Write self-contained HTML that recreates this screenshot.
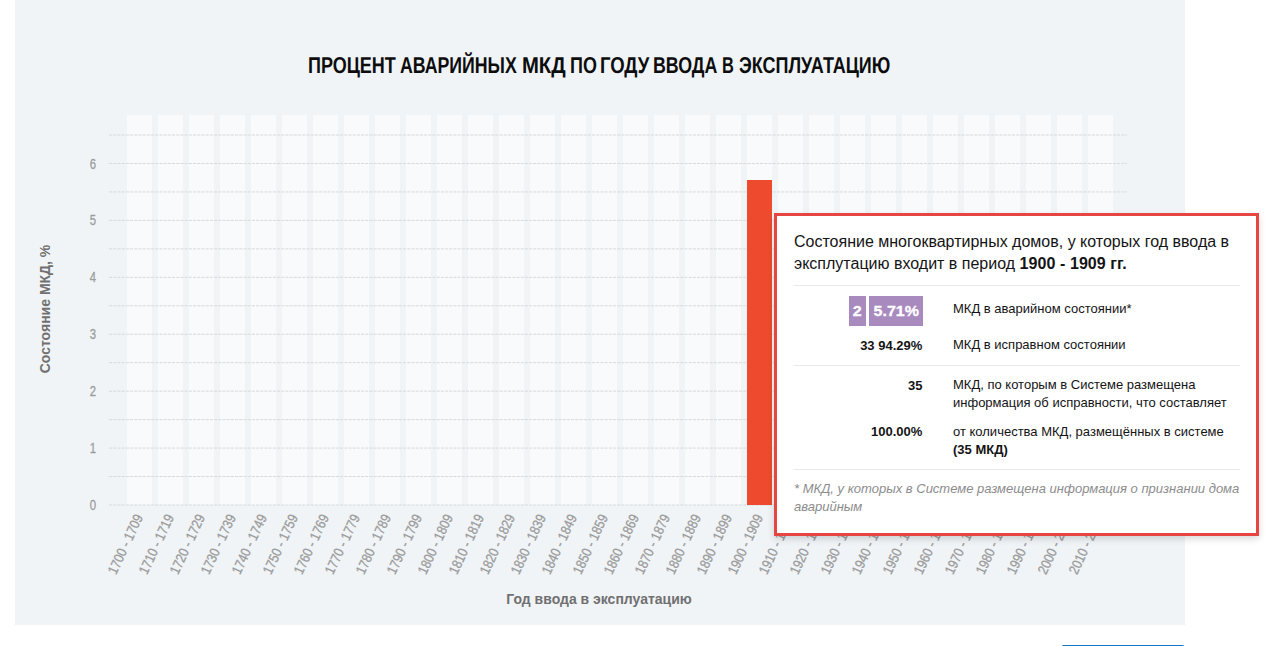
<!DOCTYPE html>
<html lang="ru"><head><meta charset="utf-8"><title>Процент аварийных МКД</title>
<style>
html,body{margin:0;padding:0;background:#fff;}
body{width:1276px;height:646px;overflow:hidden;position:relative;font-family:"Liberation Sans",sans-serif;}
.panel{position:absolute;left:15px;top:0;width:1170px;height:625px;background:#f0f4f7;}
.title{position:absolute;left:0;top:54.0px;width:1276px;height:23.0px;font-weight:bold;font-size:23.0px;line-height:23.0px;color:#0d0d0d;}
.title span{position:absolute;top:0;white-space:nowrap;transform-origin:0 50%;}
.col{position:absolute;top:115px;width:25px;height:390px;background:#f9fafc;}
.bar{position:absolute;left:747px;top:180px;width:25px;height:325px;background:#ee4b2e;}
svg.grid{position:absolute;left:0;top:0;}
svg.grid line{stroke:#d6dadd;stroke-width:1;stroke-dasharray:3.15 1.05;}
.yl{position:absolute;left:60px;width:36px;text-align:right;font-size:14.5px;line-height:16px;color:#9c9c9c;-webkit-text-stroke:.3px #9c9c9c;}
.yl{transform-origin:100% 50%;transform:scaleX(.78);}
.ytitle{position:absolute;left:45px;top:309px;width:0;height:0;}
.ytitle span{position:absolute;left:-100px;width:200px;top:-9px;text-align:center;font-weight:bold;font-size:14px;line-height:18px;color:#707070;white-space:nowrap;transform:rotate(-90deg);}
.xtitle{position:absolute;left:399px;width:400px;top:590px;text-align:center;font-weight:bold;font-size:14px;line-height:18px;color:#707070;}
.xa{position:absolute;top:515px;width:0;height:0;}
.xa span{position:absolute;right:0;top:-8px;font-size:14px;line-height:16px;color:#9c9c9c;-webkit-text-stroke:.3px #9c9c9c;white-space:nowrap;transform-origin:100% 50%;transform:rotate(-65deg) scaleX(.86);}
.btn{position:absolute;left:1062px;top:645px;width:122px;height:40px;background:#1577cc;border-radius:1.5px;}
.tip{position:absolute;left:774px;top:213px;width:479px;height:317px;border:3px solid #e64541;background:#fff;box-shadow:0 3px 7px rgba(0,0,0,.15);color:#141414;}
.tip .h{position:absolute;left:17px;top:15px;width:460px;font-size:16px;line-height:22px;}
.tip .h b{letter-spacing:.08px;}
.tip .sep{position:absolute;left:17px;width:446px;height:1px;background:#e8e8e8;}
.tip .num{position:absolute;left:17px;width:129px;text-align:right;font-weight:bold;font-size:13px;line-height:18px;white-space:nowrap;}
.tip .txt{position:absolute;left:176px;width:300px;font-size:13px;line-height:18px;}
.tip .bd{display:inline-block;background:#a88abf;color:#fff;font-size:15px;line-height:30px;height:30px;width:17px;text-align:center;vertical-align:top;-webkit-text-stroke:.3px #fff;}
.tip .bd i{display:inline-block;font-style:normal;transform:scaleX(1.067);}
.tip .foot{position:absolute;left:17px;width:460px;top:264.4px;font-size:13px;line-height:18px;font-style:italic;color:#8c8c8c;}
</style></head><body>
<div class="panel"></div>
<div class="title"><span style="left:308.03px;transform:rotate(0.03deg) scale(0.7827,1)">ПРОЦЕНТ</span><span style="left:400.2px;transform:rotate(0.03deg) scale(0.7705,1)">АВАРИЙНЫХ</span><span style="left:522.04px;transform:rotate(0.03deg) scale(0.8809,1)">МКД</span><span style="left:569.54px;transform:rotate(0.03deg) scale(0.7806,1)">ПО</span><span style="left:599.89px;transform:rotate(0.03deg) scale(0.8034,1)">ГОДУ</span><span style="left:653.25px;transform:rotate(0.03deg) scale(0.7738,1)">ВВОДА</span><span style="left:721.97px;transform:rotate(0.03deg) scale(0.7143,1)">В</span><span style="left:738.52px;transform:rotate(0.03deg) scale(0.7812,1)">ЭКСПЛУАТАЦИЮ</span></div>
<div class="col" style="left:127px"></div><div class="col" style="left:158px"></div><div class="col" style="left:189px"></div><div class="col" style="left:220px"></div><div class="col" style="left:251px"></div><div class="col" style="left:282px"></div><div class="col" style="left:313px"></div><div class="col" style="left:344px"></div><div class="col" style="left:375px"></div><div class="col" style="left:406px"></div><div class="col" style="left:437px"></div><div class="col" style="left:468px"></div><div class="col" style="left:499px"></div><div class="col" style="left:530px"></div><div class="col" style="left:561px"></div><div class="col" style="left:592px"></div><div class="col" style="left:623px"></div><div class="col" style="left:654px"></div><div class="col" style="left:685px"></div><div class="col" style="left:716px"></div><div class="col" style="left:747px"></div><div class="col" style="left:778px"></div><div class="col" style="left:809px"></div><div class="col" style="left:840px"></div><div class="col" style="left:871px"></div><div class="col" style="left:902px"></div><div class="col" style="left:933px"></div><div class="col" style="left:964px"></div><div class="col" style="left:995px"></div><div class="col" style="left:1026px"></div><div class="col" style="left:1057px"></div><div class="col" style="left:1088px"></div>
<svg class="grid" width="1276" height="646"><line x1="109" x2="1127" y1="505.0" y2="505.0"/><line x1="109" x2="1127" y1="476.54" y2="476.54"/><line x1="109" x2="1127" y1="448.08" y2="448.08"/><line x1="109" x2="1127" y1="419.62" y2="419.62"/><line x1="109" x2="1127" y1="391.16" y2="391.16"/><line x1="109" x2="1127" y1="362.7" y2="362.7"/><line x1="109" x2="1127" y1="334.24" y2="334.24"/><line x1="109" x2="1127" y1="305.78" y2="305.78"/><line x1="109" x2="1127" y1="277.32" y2="277.32"/><line x1="109" x2="1127" y1="248.86" y2="248.86"/><line x1="109" x2="1127" y1="220.4" y2="220.4"/><line x1="109" x2="1127" y1="191.94" y2="191.94"/><line x1="109" x2="1127" y1="163.48" y2="163.48"/><line x1="109" x2="1127" y1="135.02" y2="135.02"/></svg>
<div class="bar"></div>
<div class="yl" style="top:497.0px">0</div><div class="yl" style="top:440.1px">1</div><div class="yl" style="top:383.2px">2</div><div class="yl" style="top:326.2px">3</div><div class="yl" style="top:269.3px">4</div><div class="yl" style="top:212.4px">5</div><div class="yl" style="top:155.5px">6</div>
<div class="ytitle"><span>Состояние МКД, %</span></div>
<div class="xa" style="left:139.0px"><span>1700 - 1709</span></div><div class="xa" style="left:170.0px"><span>1710 - 1719</span></div><div class="xa" style="left:201.0px"><span>1720 - 1729</span></div><div class="xa" style="left:232.0px"><span>1730 - 1739</span></div><div class="xa" style="left:263.0px"><span>1740 - 1749</span></div><div class="xa" style="left:294.0px"><span>1750 - 1759</span></div><div class="xa" style="left:325.0px"><span>1760 - 1769</span></div><div class="xa" style="left:356.0px"><span>1770 - 1779</span></div><div class="xa" style="left:387.0px"><span>1780 - 1789</span></div><div class="xa" style="left:418.0px"><span>1790 - 1799</span></div><div class="xa" style="left:449.0px"><span>1800 - 1809</span></div><div class="xa" style="left:480.0px"><span>1810 - 1819</span></div><div class="xa" style="left:511.0px"><span>1820 - 1829</span></div><div class="xa" style="left:542.0px"><span>1830 - 1839</span></div><div class="xa" style="left:573.0px"><span>1840 - 1849</span></div><div class="xa" style="left:604.0px"><span>1850 - 1859</span></div><div class="xa" style="left:635.0px"><span>1860 - 1869</span></div><div class="xa" style="left:666.0px"><span>1870 - 1879</span></div><div class="xa" style="left:697.0px"><span>1880 - 1889</span></div><div class="xa" style="left:728.0px"><span>1890 - 1899</span></div><div class="xa" style="left:759.0px"><span>1900 - 1909</span></div><div class="xa" style="left:790.0px"><span>1910 - 1919</span></div><div class="xa" style="left:821.0px"><span>1920 - 1929</span></div><div class="xa" style="left:852.0px"><span>1930 - 1939</span></div><div class="xa" style="left:883.0px"><span>1940 - 1949</span></div><div class="xa" style="left:914.0px"><span>1950 - 1959</span></div><div class="xa" style="left:945.0px"><span>1960 - 1969</span></div><div class="xa" style="left:976.0px"><span>1970 - 1979</span></div><div class="xa" style="left:1007.0px"><span>1980 - 1989</span></div><div class="xa" style="left:1038.0px"><span>1990 - 1999</span></div><div class="xa" style="left:1069.0px"><span>2000 - 2009</span></div><div class="xa" style="left:1100.0px"><span>2010 - 2019</span></div>
<div class="xtitle">Год ввода в эксплуатацию</div>
<div class="btn"></div>
<div class="tip">
<div class="h">Состояние многоквартирных домов, у которых год ввода в эксплутацию входит в период <b>1900 - 1909 гг.</b></div>
<div class="sep" style="top:69px"></div>
<div class="num" style="top:80px"><span class="bd"><i>2</i></span><span class="bd" style="margin-left:3px;width:54px"><i>5.71%</i></span></div>
<div class="txt" style="top:83.7px">МКД в аварийном состоянии*</div>
<div class="num" style="top:120.9px;left:16.3px">33 94.29%</div>
<div class="txt" style="top:120.4px">МКД в исправном состоянии</div>
<div class="sep" style="top:149px"></div>
<div class="num" style="top:160.9px;left:16.5px">35</div>
<div class="txt" style="top:160.4px">МКД, по которым в Системе размещена<br>информация об исправности, что составляет</div>
<div class="num" style="top:207px;left:16.3px">100.00%</div>
<div class="txt" style="top:206.5px">от количества МКД, размещённых в системе<br><b>(35 МКД)</b></div>
<div class="sep" style="top:253px"></div>
<div class="foot">* МКД, у которых в Системе размещена информация о признании дома аварийным</div>
</div>
</body></html>
